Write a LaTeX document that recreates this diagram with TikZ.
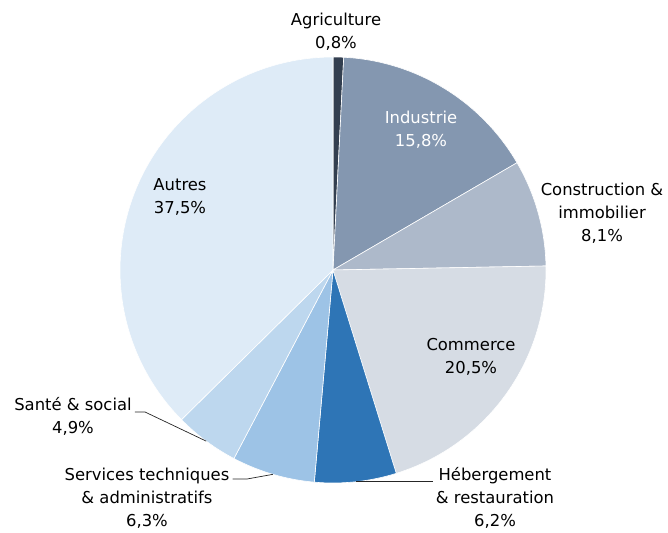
\documentclass[tikz,border=0pt]{standalone}
\usepackage{fontspec}
\setmainfont{DejaVu Sans}
\usetikzlibrary{calc}
\definecolor{agri}{HTML}{333F50}
\definecolor{indus}{HTML}{8497B0}
\definecolor{constr}{HTML}{ADB9CA}
\definecolor{comm}{HTML}{D6DCE4}
\definecolor{heberg}{HTML}{2E75B6}
\definecolor{serv}{HTML}{9DC3E6}
\definecolor{sante}{HTML}{BDD7EE}
\definecolor{autres}{HTML}{DEEBF7}
\tikzset{
  lbl/.style={align=center,text=black,font=\fontsize{16.4}{23}\selectfont,inner sep=0pt},
  leader/.style={draw=black!85,line width=0.7pt},
}
\begin{document}
\begin{tikzpicture}[x=1pt,y=1pt]
			\useasboundingbox (0,0) rectangle (668,532);
			\def\r{213}
			\coordinate (O) at (333,262);
			\foreach \a/\b/\c in {90/87.12/agri,87.12/30.24/indus,30.24/1.08/constr,1.08/-72.72/comm,-72.72/-95.04/heberg,-95.04/-117.72/serv,-117.72/-135.36/sante,-135.36/-270/autres}
				\filldraw[fill=\c,draw=white,line width=0.6pt] (O) -- ++(\a:\r) arc[start angle=\a,end angle=\b,radius=\r] -- cycle;
			% labels
			\node[lbl] (agriculture) at (336,500) {Agriculture\\0,8\%};
			\node[lbl,text=white] (industrie) at (421,402) {Industrie\\15,8\%};
			\node[lbl] (construction) at (602,319) {Construction \&\\immobilier\\8,1\%};
			\node[lbl] (commerce) at (471,175) {Commerce\\20,5\%};
			\node[lbl] (hebergement) at (495,34) {Hébergement\\\& restauration\\6,2\%};
			\node[lbl] (services) at (147,34) {Services techniques\\\& administratifs\\6,3\%};
			\node[lbl] (santesocial) at (73,115.5) {Santé \& social\\4,9\%};
			\node[lbl] (autres) at (180,335) {Autres\\37,5\%};
			% leaders
			\coordinate (hebEdge) at ($(O)+(-83.88:\r)$);
			\coordinate (servEdge) at ($(O)+(-106.38:\r)$);
			\coordinate (santeEdge) at ($(O)+(-126.54:\r)$);
			\draw[leader] (hebEdge) -- ([xshift=-3pt]hebergement.west |- hebEdge);
			\draw[leader] (servEdge) -- (247,53) -- ([xshift=3pt]services.east |- 0,53);
			\draw[leader] (santeEdge) -- (145,120) -- ([xshift=3pt]santesocial.east |- 0,120);
		\end{tikzpicture}
\end{document}
